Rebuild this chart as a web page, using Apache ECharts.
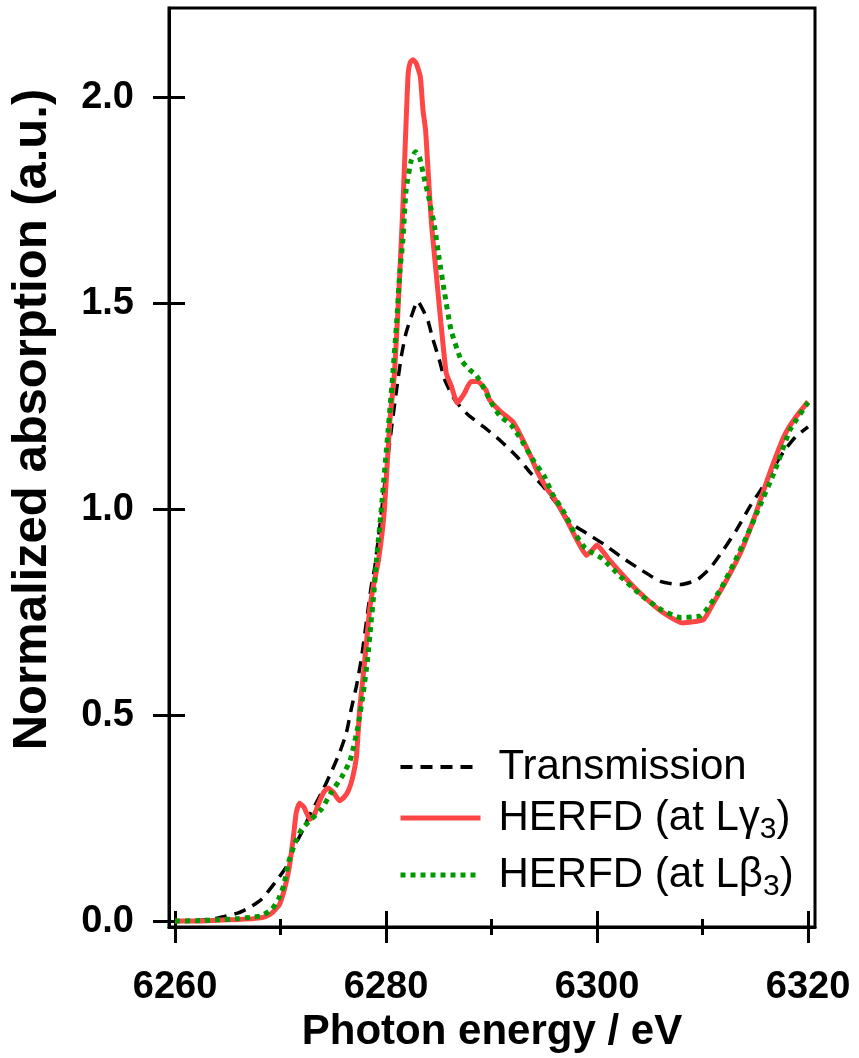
<!DOCTYPE html>
<html><head><meta charset="utf-8">
<script src="https://cdn.jsdelivr.net/npm/echarts@6/dist/echarts.min.js"></script>
<style>html,body{margin:0;padding:0;background:#fff}#c{width:859px;height:1058px}</style>
</head><body><div id="c"></div>
<script>
// ---- data ----
const transE = [6260,6262,6264,6266,6267.2,6268.2,6269.5,6270.6,6271.2,6272.0,6272.9,6273.9,6274.8,6275.6,6276.25,6276.7,6277.2,6277.65,6278.0,6278.3,6278.6,6278.95,6279.6,6280.0,6280.5,6281.0,6281.45,6281.9,6282.4,6283.0,6283.5,6284.0,6284.45,6285.05,6285.55,6286.5,6287.75,6289.3,6290.9,6292.5,6293.7,6295.0,6296.25,6297.5,6299.1,6300.7,6302.4,6304.1,6306.0,6307.9,6309.5,6310.75,6312.0,6313.25,6314.5,6315.6,6316.6,6317.7,6318.8,6320];
const transV = [0.000,0.001,0.007,0.020,0.035,0.053,0.094,0.134,0.175,0.215,0.264,0.312,0.361,0.409,0.458,0.514,0.571,0.635,0.700,0.757,0.813,0.862,1.000,1.090,1.193,1.290,1.371,1.428,1.468,1.505,1.484,1.455,1.412,1.363,1.315,1.266,1.230,1.199,1.165,1.125,1.088,1.052,1.011,0.967,0.940,0.914,0.882,0.854,0.825,0.817,0.829,0.858,0.902,0.951,1.007,1.050,1.095,1.140,1.175,1.200];

const gammaE = [6260,6262,6264,6266,6267.5,6268.5,6269.2,6269.9,6270.4,6270.8,6271.2,6271.5,6271.8,6272.2,6272.8,6273.2,6273.6,6274.1,6274.5,6275.0,6275.6,6276.0,6276.4,6276.8,6277.2,6277.5,6277.9,6278.15,6278.45,6278.8,6279.3,6279.85,6280.35,6280.8,6281.15,6281.6,6281.9,6282.1,6282.3,6282.55,6282.85,6283.25,6283.5,6283.75,6284.0,6284.3,6284.75,6285.2,6285.7,6286.2,6286.75,6287.4,6288.05,6288.7,6289.5,6289.8,6290.9,6292.0,6292.8,6293.7,6294.4,6295.3,6295.9,6297.2,6298.1,6299.0,6299.55,6300.0,6301.0,6302.3,6303.8,6305.4,6306.5,6308.1,6310.1,6311.05,6312.3,6313.6,6314.85,6315.5,6316.6,6317.8,6318.8,6320];
const gammaV = [0.000,0.000,0.002,0.004,0.006,0.010,0.020,0.040,0.080,0.126,0.200,0.265,0.286,0.277,0.247,0.258,0.285,0.313,0.323,0.313,0.292,0.300,0.315,0.345,0.400,0.514,0.611,0.677,0.757,0.813,0.878,1.000,1.210,1.330,1.492,1.735,1.938,2.058,2.085,2.091,2.083,2.050,1.970,1.920,1.816,1.695,1.574,1.453,1.331,1.298,1.258,1.280,1.310,1.310,1.288,1.266,1.236,1.213,1.177,1.129,1.088,1.048,1.028,0.970,0.925,0.888,0.901,0.913,0.882,0.844,0.803,0.766,0.745,0.724,0.732,0.773,0.829,0.894,0.975,1.024,1.104,1.181,1.222,1.261];

const betaE = [6260,6262,6264,6266,6267.5,6268.2,6269.2,6269.8,6270.3,6270.75,6271.4,6272.0,6272.9,6273.9,6274.8,6275.8,6276.6,6277.35,6277.85,6278.25,6278.55,6278.85,6279.1,6279.55,6280.2,6280.65,6281.0,6281.3,6281.6,6281.9,6282.4,6282.8,6283.2,6283.65,6284.1,6284.6,6285.05,6285.55,6286.15,6287.1,6287.9,6288.5,6289.0,6289.95,6290.8,6291.85,6292.8,6293.9,6295.0,6295.8,6296.9,6297.8,6298.8,6299.6,6300.5,6302.2,6304.1,6306.0,6307.9,6309.8,6310.4,6311.7,6313.0,6314.2,6315.15,6316.9,6318.3,6320];
const betaV = [0.000,0.001,0.003,0.006,0.010,0.013,0.029,0.053,0.086,0.142,0.191,0.223,0.247,0.272,0.312,0.350,0.390,0.474,0.555,0.635,0.716,0.797,0.878,1.000,1.193,1.331,1.452,1.573,1.654,1.775,1.848,1.868,1.852,1.800,1.751,1.686,1.606,1.525,1.436,1.363,1.339,1.327,1.307,1.260,1.226,1.205,1.169,1.121,1.080,1.036,0.991,0.945,0.908,0.893,0.880,0.837,0.793,0.757,0.737,0.741,0.757,0.805,0.870,0.935,0.991,1.096,1.193,1.259];

const seriesNames = ['Transmission', 'HERFD (at Lγ3)', 'HERFD (at Lβ3)'];
const xMajorTicks = [6260, 6280, 6300, 6320];
const xMinorTicks = [6270, 6290, 6310];
const yTicks = [0, 0.5, 1.0, 1.5, 2.0];
const xTitle = 'Photon energy / eV';
const yTitle = 'Normalized absorption (a.u.)';

// ---- chart ----
const XMIN = 6259.43, XMAX = 6320.66, YMIN = -0.0146, YMAX = 2.2168;
const FONT = '"Liberation Sans", Arial, sans-serif';
const pairs = (e, v) => e.map((x, i) => [x, v[i]]);

function xAx(ticks, inside, len, main) {
  return {
    type: 'value', min: XMIN, max: XMAX, position: 'bottom', gridIndex: 0,
    axisLine: { show: !!main, onZero: false, lineStyle: { color: '#000', width: 3 } },
    axisTick: { show: true, inside: inside, length: len, customValues: ticks, lineStyle: { color: '#000', width: 3 } },
    axisLabel: main ? { show: true, customValues: ticks, margin: 41, color: '#000', fontSize: 38, fontWeight: 'bold', fontFamily: FONT, formatter: v => String(v) } : { show: false },
    splitLine: { show: false },
    name: main ? xTitle : '', nameLocation: 'middle', nameGap: 76,
    nameTextStyle: { color: '#000', fontSize: 42, fontWeight: 'bold', fontFamily: FONT }
  };
}
function yAx(inside, main) {
  return {
    type: 'value', min: YMIN, max: YMAX, position: 'left', gridIndex: 0,
    axisLine: { show: !!main, onZero: false, lineStyle: { color: '#000', width: 3 } },
    axisTick: { show: true, inside: inside, length: 16, customValues: yTicks, lineStyle: { color: '#000', width: 3 } },
    axisLabel: main ? { show: true, customValues: yTicks, margin: 35, color: '#000', fontSize: 38, fontWeight: 'bold', fontFamily: FONT, formatter: v => v.toFixed(1) } : { show: false },
    splitLine: { show: false },
    name: main ? yTitle : '', nameLocation: 'middle', nameGap: 112,
    nameTextStyle: { color: '#000', fontSize: 49, fontWeight: 'bold', fontFamily: FONT, padding: [0, 0, 0, 96] }
  };
}

const chart = echarts.init(document.getElementById('c'), null, { renderer: 'canvas' });
chart.setOption({
  animation: false,
  backgroundColor: '#fff',
  grid: { left: 167, right: 44, top: 8, bottom: 130, show: true, borderColor: '#000', borderWidth: 3, backgroundColor: 'transparent' },
  xAxis: [xAx(xMajorTicks, false, 16, true), xAx(xMajorTicks, true, 16, false), xAx(xMinorTicks, false, 8, false), xAx(xMinorTicks, true, 8, false)],
  yAxis: [yAx(false, true), yAx(true, false)],
  legend: {
    orient: 'vertical', left: 398, top: 746, padding: 0, itemGap: 9,
    itemWidth: 80, itemHeight: 14,
    data: [
      { name: seriesNames[0], lineStyle: { width: 4 }, itemStyle: { opacity: 0 } },
      { name: seriesNames[1], lineStyle: { width: 5 }, itemStyle: { opacity: 0 } },
      { name: seriesNames[2], lineStyle: { width: 5 }, itemStyle: { opacity: 0 } }
    ],
    formatter: function (name) {
      const m = name.match(/^(.*)(\d)\)$/);
      if (!m) return '{t|' + name + '}';
      return '{n|' + m[1] + '}{s|' + m[2] + '}{n|)}';
    },
    textStyle: {
      color: '#000', fontSize: 42, fontFamily: FONT, padding: [0, 0, 0, 13],
      rich: {
        t: { fontSize: 42, fontFamily: FONT, color: '#000', lineHeight: 44 },
        n: { fontSize: 42, fontFamily: FONT, color: '#000' },
        s: { fontSize: 30, fontFamily: FONT, color: '#000', padding: [24, 0, 0, 0] }
      }
    }
  },
  series: [
    { name: seriesNames[0], type: 'line', data: pairs(transE, transV), showSymbol: false, symbol: 'none', smooth: 0.2,
      lineStyle: { color: '#000', width: 3.5, type: [12, 8] }, itemStyle: { color: '#000' } },
    { name: seriesNames[1], type: 'line', data: pairs(gammaE, gammaV), showSymbol: false, symbol: 'none', smooth: 0.15,
      lineStyle: { color: '#ff4646', width: 5 }, itemStyle: { color: '#ff4646' } },
    { name: seriesNames[2], type: 'line', data: pairs(betaE, betaV), showSymbol: false, symbol: 'none', smooth: 0.15,
      lineStyle: { color: '#009a00', width: 5, type: [5, 5] }, itemStyle: { color: '#009a00' } }
  ]
});
</script></body></html>
